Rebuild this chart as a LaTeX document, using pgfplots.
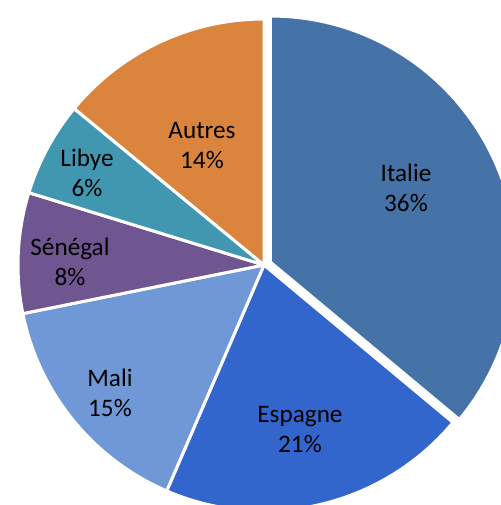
\documentclass[border=0pt]{standalone}
\usepackage{pgfplots}
\pgfplotsset{compat=1.18}
\usepackage{fontspec}
\setmainfont{Carlito}
\usetikzlibrary{calc}
\definecolor{cItalie}{RGB}{69,114,167}
\definecolor{cEspagne}{RGB}{51,102,204}
\definecolor{cMali}{RGB}{113,152,214}
\definecolor{cSenegal}{RGB}{112,86,144}
\definecolor{cLibye}{RGB}{66,151,176}
\definecolor{cAutres}{RGB}{219,132,62}
\begin{document}
\begin{tikzpicture}
\begin{axis}[hide axis, scale only axis, width=250.5pt, height=252.5pt,
  xmin=-264, xmax=237, ymin=-240, ymax=265, clip=true]
% shares (percent): Italie 36.0, Espagne 20.4, Mali 15.4, Senegal 7.9, Libye 6.2, Autres 14.1
% boundary angles (deg): 90, -39.8, -113.3, -168.6, -197.1, -219.5, -270
\def\R{123pt}
\fill[cItalie, draw=white, line width=1.5pt] ($(axis cs:0,0)+(25.1:3.5pt)$) -- ++(90:\R) arc[start angle=90, end angle=-39.8, radius=\R] -- cycle;
\fill[cEspagne, draw=white, line width=1.5pt] (axis cs:0,0) -- ++(-39.8:\R) arc[start angle=-39.8, end angle=-113.3, radius=\R] -- cycle;
\fill[cMali, draw=white, line width=1.5pt] (axis cs:0,0) -- ++(-113.3:\R) arc[start angle=-113.3, end angle=-168.6, radius=\R] -- cycle;
\fill[cSenegal, draw=white, line width=1.5pt] (axis cs:0,0) -- ++(-168.6:\R) arc[start angle=-168.6, end angle=-197.1, radius=\R] -- cycle;
\fill[cLibye, draw=white, line width=1.5pt] (axis cs:0,0) -- ++(-197.1:\R) arc[start angle=-197.1, end angle=-219.5, radius=\R] -- cycle;
\fill[cAutres, draw=white, line width=1.5pt] (axis cs:0,0) -- ++(-219.5:\R) arc[start angle=-219.5, end angle=-270, radius=\R] -- cycle;
\tikzset{lab/.style={align=center, font=\fontsize{12.6}{15}\selectfont, text=black}}
\node[lab] at (axis cs:142,77) {Italie\\36\%};
\node[lab] at (axis cs:36,-165) {Espagne\\21\%};
\node[lab] at (axis cs:-154,-128) {Mali\\15\%};
\node[lab] at (axis cs:-194,3) {Sénégal\\8\%};
\node[lab] at (axis cs:-177,92) {Libye\\6\%};
\node[lab] at (axis cs:-62,119) {Autres\\14\%};
\end{axis}
\pgfresetboundingbox
\useasboundingbox (current axis.south west) rectangle (current axis.north east);
\end{tikzpicture}
\end{document}
